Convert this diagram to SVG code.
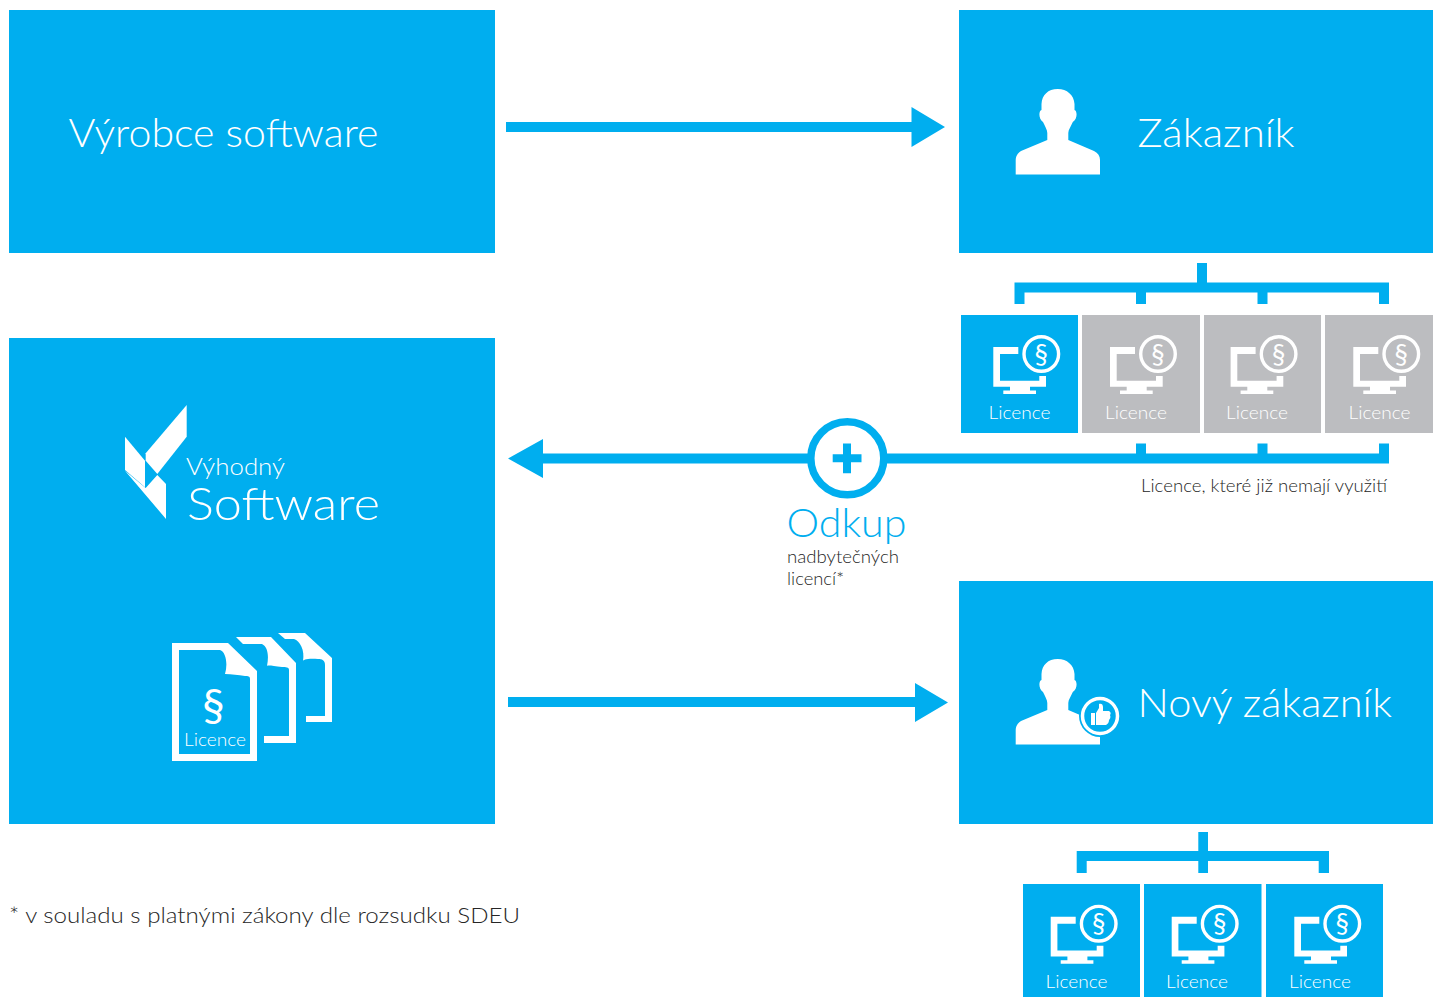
<svg xmlns="http://www.w3.org/2000/svg" xmlns:xlink="http://www.w3.org/1999/xlink" width="1433" height="997" viewBox="0 0 1433 997">
<style>
text{font-family:Lato,"Liberation Sans",sans-serif;font-weight:300}
.b{fill:#00aeef}.g{fill:#bcbdc0}.w{fill:#fff}
.t{fill:#fff;font-size:40px}
.l{fill:#fff;font-size:18px;text-anchor:middle}
.d{fill:#262626;font-weight:300}
</style>
<defs>
<g id="mon">
<path class="w" d="M993.3 347H1018.3V354H1000V380.7H1039.3V376H1046V386.7H1030V390.5H1036V394H1003.3V390.5H1010V386.7H993.3Z"/>
<circle cx="1041.3" cy="354" r="17.3" fill="none" stroke="#fff" stroke-width="3.4"/>
<text x="1041.3" y="363.500" text-anchor="middle" style="font-size:27px;font-weight:400" fill="#fff">§</text>
</g>
<path id="person" class="w" d="M1057.7 89C1067 89 1074 95 1074.500 104V110C1077.500 111 1077.500 119 1072.800 122C1071 126 1068.300 130 1068.300 133V140L1094 151C1098 153 1100 156 1100 160V174.500H1015.700V160C1015.700 156 1018 153 1021 151L1047.300 140V133C1047.300 130 1045 126 1043 122C1038.500 119 1038.500 111 1041.500 110V104C1042 95 1048 89 1057.700 89Z"/>
</defs>
<g id="connectors">
<path class="b" d="M506 122H911.500V107L945 127L911.500 147V132H506Z"/>
<path class="b" d="M508 697H915V683L948 702.500L915 722V707H508Z"/>
<path class="b" d="M543 453.500H1136V443.500H1146V453.500H1257.500V443.500H1267.500V453.500H1379V443.500H1389V463.500H543V478L508 458.500L543 439Z"/>
<path class="b" d="M1197 263H1207V282.500H1389V304H1379V292.500H1267.500V304H1257.500V292.500H1146V304H1136V292.500H1024.500V304H1014.500V282.500H1197Z"/>
<path class="b" d="M1198.300 832H1208V851H1329V873H1318.700V861H1208V873H1198.300V861H1086.700V873H1076.700V851H1198.300Z"/>
</g>
<g id="vyrobce"><rect class="b" x="9" y="10" width="486" height="243"/><text class="t" x="68.500" y="147" textLength="310" lengthAdjust="spacingAndGlyphs">Výrobce software</text></g>
<g id="zakaznik"><rect class="b" x="959" y="10" width="474" height="243"/><use xlink:href="#person" href="#person"/><text class="t" x="1137.500" y="147" textLength="157" lengthAdjust="spacingAndGlyphs">Zákazník</text></g>
<g id="vyhodny"><rect class="b" x="9" y="338" width="486" height="486"/>
<g id="logo" class="w">
<path d="M186.700 405V436.700L157.300 474L145.700 460.700V453.300Z"/>
<path d="M125 436.700L145 460.700V487.300L125 470Z"/>
<path d="M125 470.700L145.700 488L157.300 475L166 484V519Z"/>
</g>
<text x="186" y="475" fill="#fff" style="font-size:24px" textLength="99" lengthAdjust="spacingAndGlyphs">Výhodný</text>
<text x="187" y="520" fill="#fff" style="font-size:46px" textLength="193" lengthAdjust="spacingAndGlyphs">Software</text>
<g id="docs">
<path class="w" d="M278 633H305L332 658V722H306V716H325V665C325 660 322 659 318 659C307 658 303 660 303 661C305 650 300 641 294 639H285Z"/>
<path class="w" d="M236 637H271L296 663V743H264V736H289V670C289 667 286 667 282 667C273 666 268 665 267 666C269 656 268 647 262 644H243Z"/>
<path class="w" fill-rule="evenodd" d="M172 643H228L257 671V761H172ZM179 650V754H250V679C250 676 248 676 245 676C238 675 232 674 225 674C228 664 226 652 220 650Z"/>
<text x="213.500" y="721" text-anchor="middle" fill="#fff" style="font-size:45px;font-weight:400">§</text>
<text class="l" x="215" y="746" textLength="62" lengthAdjust="spacingAndGlyphs">Licence</text>
</g>
</g>
<g id="novy"><rect class="b" x="959" y="581" width="474" height="243"/><use xlink:href="#person" href="#person" y="570"/>
<circle cx="1100" cy="716" r="21" fill="#00aeef"/><circle cx="1100" cy="716" r="17.500" fill="none" stroke="#fff" stroke-width="3.500"/>
<path class="w" d="M1091 713H1095V725H1091ZM1096 713L1099 708V704C1101 703 1103 704 1103 707V711H1109C1111 712 1111 714 1110 715C1111 717 1110 719 1109 720C1109 722 1108 724 1106 725H1096Z"/>
<text class="t" x="1137.500" y="717" textLength="254.500" lengthAdjust="spacingAndGlyphs">Nový zákazník</text></g>
<g id="l1"><rect class="b" x="961" y="315" width="117" height="118"/><use xlink:href="#mon" href="#mon"/><text class="l" x="1019.500" y="419" textLength="62" lengthAdjust="spacingAndGlyphs">Licence</text></g>
<g id="l2"><rect class="g" x="1082" y="315" width="118" height="118"/><use xlink:href="#mon" href="#mon" x="116.700"/><text class="l" x="1136" y="419" textLength="62" lengthAdjust="spacingAndGlyphs">Licence</text></g>
<g id="l3"><rect class="g" x="1204" y="315" width="117" height="118"/><use xlink:href="#mon" href="#mon" x="237.300"/><text class="l" x="1257" y="419" textLength="62" lengthAdjust="spacingAndGlyphs">Licence</text></g>
<g id="l4"><rect class="g" x="1325" y="315" width="108" height="118"/><use xlink:href="#mon" href="#mon" x="360"/><text class="l" x="1379.500" y="419" textLength="62" lengthAdjust="spacingAndGlyphs">Licence</text></g>
<g id="n1"><rect class="b" x="1023" y="884" width="117" height="113"/><use xlink:href="#mon" href="#mon" x="57.400" y="569.700"/><text class="l" x="1076.500" y="988" textLength="62" lengthAdjust="spacingAndGlyphs">Licence</text></g>
<g id="n2"><rect class="b" x="1144" y="884" width="117.500" height="113"/><use xlink:href="#mon" href="#mon" x="178.400" y="569.700"/><text class="l" x="1197" y="988" textLength="62" lengthAdjust="spacingAndGlyphs">Licence</text></g>
<g id="n3"><rect class="b" x="1266" y="884" width="117" height="113"/><use xlink:href="#mon" href="#mon" x="301" y="569.700"/><text class="l" x="1320" y="988" textLength="62" lengthAdjust="spacingAndGlyphs">Licence</text></g>
<g id="odkup">
<circle cx="847.300" cy="458.300" r="36.500" fill="#fff" stroke="#00aeef" stroke-width="7.500"/>
<path class="b" d="M843 443.500H851V454.300H861.500V462.300H851V473.300H843V462.300H832.700V454.300H843Z"/>
<text x="786.500" y="537" fill="#00aeef" style="font-size:39px" textLength="120" lengthAdjust="spacingAndGlyphs">Odkup</text>
<text class="d" x="787" y="562.500" style="font-size:17px" textLength="112" lengthAdjust="spacingAndGlyphs">nadbytečných</text>
<text class="d" x="787" y="584.500" style="font-size:17px" textLength="57" lengthAdjust="spacingAndGlyphs">licencí*</text>
</g>
<text class="d" x="1141" y="491.500" style="font-size:17px" textLength="246" lengthAdjust="spacingAndGlyphs">Licence, které již nemají využití</text>
<text class="d" x="9" y="923" style="font-size:22px" textLength="511" lengthAdjust="spacingAndGlyphs">* v souladu s platnými zákony dle rozsudku SDEU</text>
</svg>
